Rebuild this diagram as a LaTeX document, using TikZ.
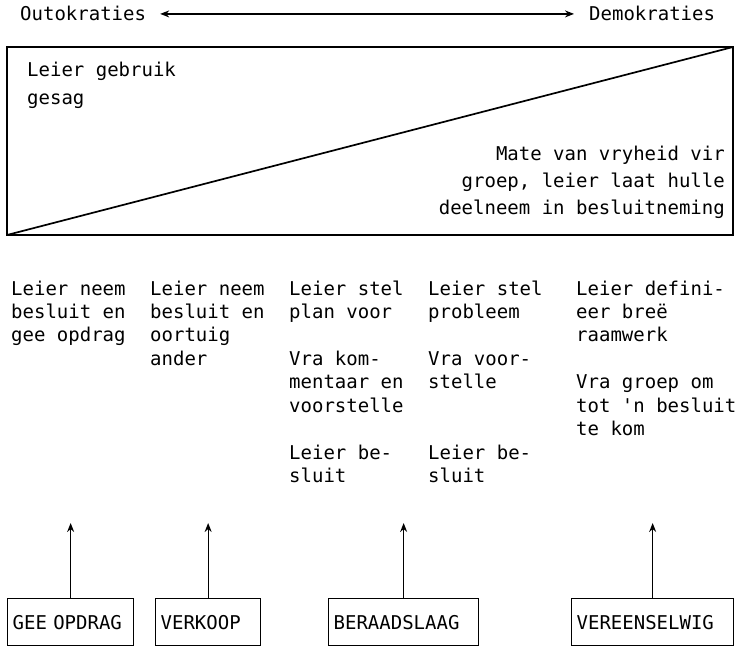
\documentclass[tikz,border=0pt]{standalone}
\usepackage{fontspec}
\setmonofont{DejaVu Sans Mono}
\usetikzlibrary{positioning}
\usetikzlibrary{calc}
\usetikzlibrary{arrows.meta}

\begin{document}
\begin{tikzpicture}[x=1pt,y=-1pt,>={Stealth[length=9pt,width=7pt]}]
		\tikzset{
			textnode/.style={text=black,inner sep=0pt,font=\ttfamily\fontsize{19}{23.4}\selectfont},
		}
		\tikzset{
			edge/.style={color=black,line width=1.3pt},
		}
		\tikzset{
			actbox/.style={textnode,draw,line width=1.3pt,anchor=north west,minimum height=47pt,inner xsep=5pt,align=left},
		}
		\newcommand{\rowtop}{280.5}
		\newcommand{\arrowlen}{75}
		
		\useasboundingbox (0,0) rectangle (739,650);
		
		\node[textnode,anchor=base west] (outo) at (20,21) {Outokraties};
		\node[textnode,anchor=base west] (demo) at (589,21) {Demokraties};
		
		\coordinate (bl) at (7,235);
		\coordinate (tr) at (733,47);
		\draw[edge] (bl) rectangle (tr);
		\draw[edge,line width=1.7pt] (bl) -- (tr);
		
		\node[textnode,anchor=north west,align=left,font=\ttfamily\fontsize{19}{28}\selectfont] (gesag) at (27,62) {Leier gebruik\\gesag};
		\node[textnode,anchor=north east,align=right,font=\ttfamily\fontsize{19}{27}\selectfont] (vryheid) at (725,146) {Mate van vryheid vir\\groep, leier laat hulle\\deelneem in besluitneming};
		
		\node[textnode,anchor=north west,align=left] (opdrag) at (11,\rowtop) {Leier neem\\besluit en\\gee opdrag};
		\node[textnode,anchor=north west,align=left] (oortuig) at (150,\rowtop) {Leier neem\\besluit en\\oortuig\\ander};
		\node[textnode,anchor=north west,align=left] (plan) at (289,\rowtop) {Leier stel\\plan voor\\[23.4pt]Vra kom-\\mentaar en\\voorstelle\\[23.4pt]Leier be-\\sluit};
		\node[textnode,anchor=north west,align=left] (probleem) at (428,\rowtop) {Leier stel\\probleem\\[23.4pt]Vra voor-\\stelle\\[46.8pt]Leier be-\\sluit};
		\node[textnode,anchor=north west,align=left] (raamwerk) at (576,\rowtop) {Leier defini-\\eer breë\\raamwerk\\[23.4pt]Vra groep om\\tot 'n besluit\\te kom};
		
		\node[actbox,text width=116pt] (gee) at (7,598) {GEE OPDRAG};
		\node[actbox,text width=95pt] (verkoop) at (155,598) {VERKOOP};
		\node[actbox,text width=140pt] (beraad) at (328,598) {BERAADSLAAG};
		\node[actbox,text width=152pt] (vereen) at (571,598) {VEREENSELWIG};
		
		\coordinate (geetip) at ($(gee.north)+(0,-\arrowlen)$);
		\coordinate (verkooptip) at ($(verkoop.north)+(0,-\arrowlen)$);
		\coordinate (beraadtip) at ($(beraad.north)+(0,-\arrowlen)$);
		\coordinate (vereentip) at ($(vereen.north)+(0,-\arrowlen)$);
		
		\draw[<->,edge,shorten <=14pt,shorten >=15pt] (outo) -- (demo);
		\draw[->,edge] (gee.north) -- (geetip);
		\draw[->,edge] (verkoop.north) -- (verkooptip);
		\draw[->,edge] (beraad.north) -- (beraadtip);
		\draw[->,edge] (vereen.north) -- (vereentip);
	\end{tikzpicture}
\end{document}
